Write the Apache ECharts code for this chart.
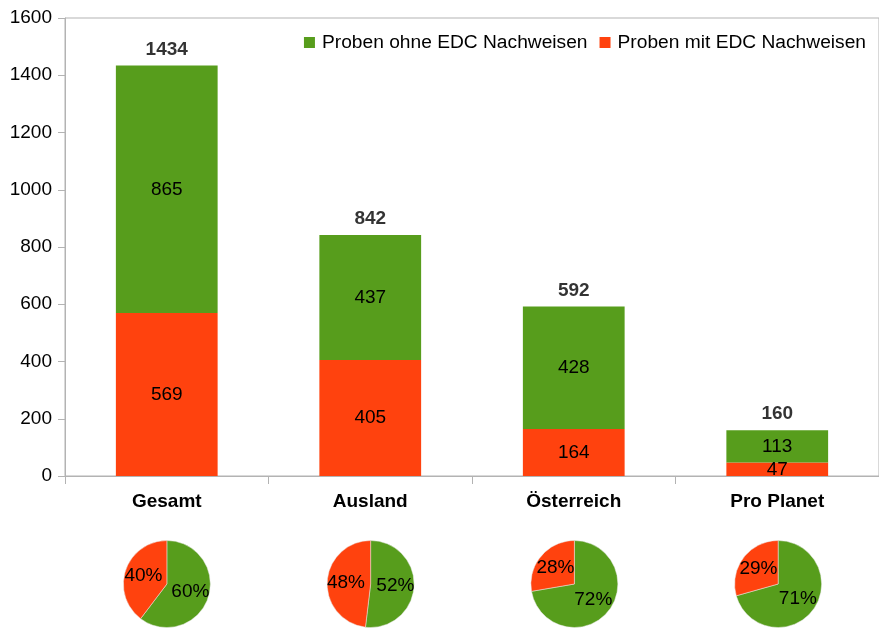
<!DOCTYPE html>
<html>
<head>
<meta charset="utf-8">
<script src="https://cdn.jsdelivr.net/npm/echarts@6/dist/echarts.min.js"></script>
<style>
html,body{margin:0;padding:0;background:#fff;}
#chart{width:879px;height:628px;}
</style>
</head>
<body>
<div id="chart"></div>
<script>
const categories = ['Gesamt', 'Ausland', 'Österreich', 'Pro Planet'];
const ohneEDC = [865, 437, 428, 113];
const mitEDC = [569, 405, 164, 47];
const totals = [1434, 842, 592, 160];
const yTicks = [0, 200, 400, 600, 800, 1000, 1200, 1400, 1600];
const seriesNames = ['Proben ohne EDC Nachweisen', 'Proben mit EDC Nachweisen'];

const GREEN = '#579d1c';
const RED = '#ff420e';
const FONT = 'Liberation Sans';
const FS = 19;

const gridLeft = 65, gridTop = 18, gridW = 815, gridH = 458;
const catW = gridW / categories.length;

const pies = categories.map((c, i) => ({
  type: 'pie',
  center: [gridLeft + catW * (i + 0.5), 584],
  radius: 43.5,
  startAngle: 90,
  clockwise: true,
  percentPrecision: 0,
  silent: true,
  animation: false,
  label: {
    show: true, position: 'inside', formatter: '{d}%',
    color: '#000', fontSize: FS, fontFamily: FONT
  },
  labelLine: { show: false },
  itemStyle: { borderColor: '#e8e8e8', borderWidth: 0.5 },
  data: [
    { name: seriesNames[0], value: ohneEDC[i], itemStyle: { color: GREEN } },
    { name: seriesNames[1], value: mitEDC[i], itemStyle: { color: RED } }
  ]
}));

const option = {
  animation: false,
  textStyle: { fontFamily: FONT },
  legend: {
    data: [
      { name: seriesNames[0], itemStyle: { color: GREEN } },
      { name: seriesNames[1], itemStyle: { color: RED } }
    ],
    right: 13, top: 33,
    icon: 'rect', itemWidth: 11, itemHeight: 11, itemGap: 12,
    textStyle: { fontSize: 19.2, color: '#000', fontFamily: FONT, padding: [0, 0, 0, 2] },
    padding: 0
  },
  grid: {
    left: gridLeft, top: gridTop, width: gridW, height: gridH,
    show: true, borderColor: '#b3b3b3', borderWidth: 1, backgroundColor: 'transparent'
  },
  xAxis: {
    type: 'category', data: categories,
    axisLine: { lineStyle: { color: '#b3b3b3', width: 1 } },
    axisTick: { show: true, length: 8, lineStyle: { color: '#b3b3b3' } },
    axisLabel: { fontSize: FS, fontWeight: 'bold', color: '#000', margin: 16, fontFamily: FONT },
    splitLine: { show: false }
  },
  yAxis: {
    type: 'value', min: yTicks[0], max: yTicks[yTicks.length - 1], interval: 200,
    axisLine: { show: true, lineStyle: { color: '#b3b3b3', width: 1 } },
    axisTick: { show: true, length: 7, lineStyle: { color: '#b3b3b3' } },
    axisLabel: { fontSize: FS, color: '#000', margin: 13, fontFamily: FONT, formatter: (v) => String(v) },
    splitLine: { show: false }
  },
  series: [
    {
      name: seriesNames[1], type: 'bar', stack: 'total', barWidth: '50%',
      data: mitEDC, itemStyle: { color: RED },
      label: { show: true, position: 'inside', color: '#000', fontSize: FS, fontFamily: FONT }
    },
    {
      name: seriesNames[0], type: 'bar', stack: 'total', barWidth: '50%',
      data: ohneEDC, itemStyle: { color: GREEN },
      label: { show: true, position: 'inside', color: '#000', fontSize: FS, fontFamily: FONT }
    },
    {
      name: 'Summe', type: 'scatter', data: totals, symbolSize: 1,
      itemStyle: { color: 'rgba(0,0,0,0)' }, silent: true,
      label: { show: true, position: 'top', distance: 6, color: '#000', fontSize: FS, fontWeight: 'bold', fontFamily: FONT }
    }
  ].concat(pies)
};

const chart = echarts.init(document.getElementById('chart'), null, { renderer: 'canvas' });
chart.setOption(option);
</script>
</body>
</html>
